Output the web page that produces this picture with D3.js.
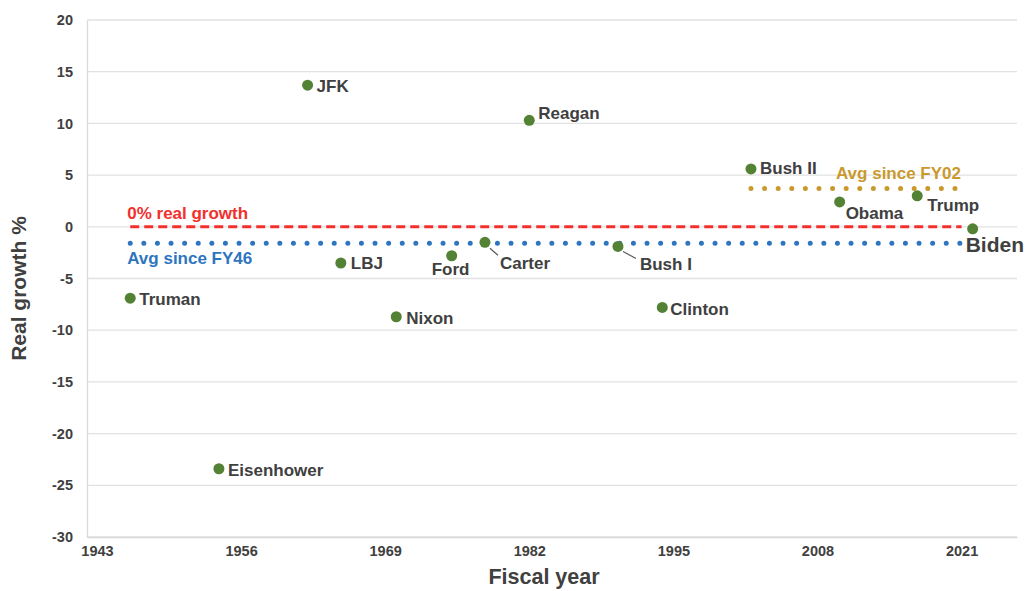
<!DOCTYPE html>
<html>
<head>
<meta charset="utf-8">
<script src="https://cdn.jsdelivr.net/npm/d3@7"></script>
<style>
  html, body { margin: 0; padding: 0; background: #fff; }
  svg { display: block; font-family: "Liberation Sans", Arial, sans-serif; }
</style>
</head>
<body>
<svg id="chart" width="1029" height="591"></svg>
<script>
// ---- Data ----
const presidents = ["Truman", "Eisenhower", "JFK", "LBJ", "Nixon", "Ford", "Carter", "Reagan", "Bush I", "Clinton", "Bush II", "Obama", "Trump", "Biden"];
const fiscalYears = [1946, 1954, 1962, 1965, 1970, 1975, 1978, 1982, 1990, 1994, 2002, 2010, 2017, 2022];
const realGrowth = [-6.9, -23.4, 13.7, -3.5, -8.7, -2.8, -1.5, 10.3, -1.9, -7.8, 5.6, 2.4, 3.0, -0.2];

const refLineNames = ["0% real growth", "Avg since FY46", "Avg since FY02"];
const refLineValues = [0, -1.6, 3.7];
const refLineStart = [1946, 1946, 2002];
const refLineEnd = [2021, 2021, 2021];

const xTicks = [1943, 1956, 1969, 1982, 1995, 2008, 2021];
const yTicks = [20, 15, 10, 5, 0, -5, -10, -15, -20, -25, -30];

(function () {
// ---- Layout ----
const svg = d3.select("#chart");
const mLeft = 87, mRight = 1017, mTop = 20, mBottom = 537;
const x = d3.scaleLinear().domain([1942.1, 2026]).range([mLeft, mRight]);
const y = d3.scaleLinear().domain([-30, 20]).range([mBottom, mTop]);

const textColor = "#404040";
const font = "Liberation Sans, Arial, sans-serif";

// gridlines
svg.append("g")
  .selectAll("line")
  .data(yTicks)
  .join("line")
  .attr("x1", mLeft).attr("x2", mRight)
  .attr("y1", d => y(d)).attr("y2", d => y(d))
  .attr("stroke", "#e2e2e2").attr("stroke-width", 1.3);

// y axis
const yAxis = svg.append("g")
  .attr("transform", `translate(${mLeft},0)`)
  .call(d3.axisLeft(y).tickValues(yTicks).tickFormat(d => String(d)).tickSize(0).tickPadding(14));
yAxis.select(".domain").attr("stroke", "#d9d9d9").attr("stroke-width", 1.3);
yAxis.selectAll("text").attr("fill", textColor).attr("font-size", 14.5).attr("font-weight", "bold")
  .attr("font-family", font);

// x axis
const xAxis = svg.append("g")
  .attr("transform", `translate(0,${mBottom})`)
  .call(d3.axisBottom(x).tickValues(xTicks).tickFormat(d => String(d)).tickSize(0).tickPadding(9));
xAxis.select(".domain").attr("stroke", "#d9d9d9").attr("stroke-width", 1.3);
xAxis.selectAll("text").attr("fill", textColor).attr("font-size", 14.5).attr("font-weight", "bold")
  .attr("font-family", font);

// axis titles
svg.append("text")
  .attr("transform", `translate(26,${(mTop + mBottom) / 2 + 10}) rotate(-90)`)
  .attr("text-anchor", "middle")
  .attr("fill", textColor).attr("font-size", 21).attr("font-weight", "bold")
  .text("Real growth %");
svg.append("text")
  .attr("x", 544).attr("y", 584)
  .attr("text-anchor", "middle")
  .attr("fill", textColor).attr("font-size", 21.5).attr("font-weight", "bold")
  .text("Fiscal year");

// reference lines
const refColors = ["#f2302c", "#2e75c0", "#c9992e"];
const refDash = ["9 5", "0 13.6", "0 13.6"];
const refWidth = [3, 5, 5];
const refCap = ["butt", "round", "round"];
refLineNames.forEach((n, i) => {
  svg.append("line")
    .attr("x1", x(refLineStart[i])).attr("x2", x(refLineEnd[i]))
    .attr("y1", y(refLineValues[i])).attr("y2", y(refLineValues[i]))
    .attr("stroke", refColors[i]).attr("stroke-width", refWidth[i])
    .attr("stroke-dasharray", refDash[i]).attr("stroke-linecap", refCap[i]);
});
// reference labels
const refLabelPos = [
  {dx: -3, yOff: -8, xv: refLineStart[0]},
  {dx: -3, yOff: 21, xv: refLineStart[1]},
  {dx: 85, yOff: -10, xv: refLineStart[2]}
];
refLineNames.forEach((n, i) => {
  const p = refLabelPos[i];
  svg.append("text")
    .attr("x", x(p.xv) + p.dx)
    .attr("y", y(refLineValues[i]) + p.yOff)
    .attr("fill", refColors[i]).attr("font-size", 17).attr("font-weight", "bold")
    .text(n);
});

// points
const pts = presidents.map((p, i) => ({name: p, year: fiscalYears[i], v: realGrowth[i]}));
svg.append("g").selectAll("circle")
  .data(pts).join("circle")
  .attr("cx", d => x(d.year)).attr("cy", d => y(d.v))
  .attr("r", 5.5).attr("fill", "#548235");

// label placement offsets (relative to point)
const labelOffsets = {
  "Truman": [9, 7], "Eisenhower": [9, 7], "JFK": [9, 7], "LBJ": [10, 6], "Nixon": [10, 7],
  "Ford": [-20, 19], "Carter": [15, 27], "Reagan": [9, -1], "Bush I": [22, 24], "Clinton": [8, 8],
  "Bush II": [9, 5], "Obama": [6, 17], "Trump": [10, 15], "Biden": [-7, 23]
};
const leaders = {"Carter": [[5, 6], [13, 13]], "Bush I": [[5, 5], [18, 12]]};

pts.forEach(d => {
  const o = labelOffsets[d.name];
  const px = x(d.year), py = y(d.v);
  if (leaders[d.name]) {
    const l = leaders[d.name];
    svg.append("line")
      .attr("x1", px + l[0][0]).attr("y1", py + l[0][1])
      .attr("x2", px + l[1][0]).attr("y2", py + l[1][1])
      .attr("stroke", "#595959").attr("stroke-width", 1.2);
  }
  svg.append("text")
    .attr("x", px + o[0]).attr("y", py + o[1])
    .attr("fill", textColor)
    .attr("font-size", d.name === "Biden" ? 21 : 17)
    .attr("font-weight", "bold")
    .text(d.name);
});
})();
</script>
</body>
</html>
